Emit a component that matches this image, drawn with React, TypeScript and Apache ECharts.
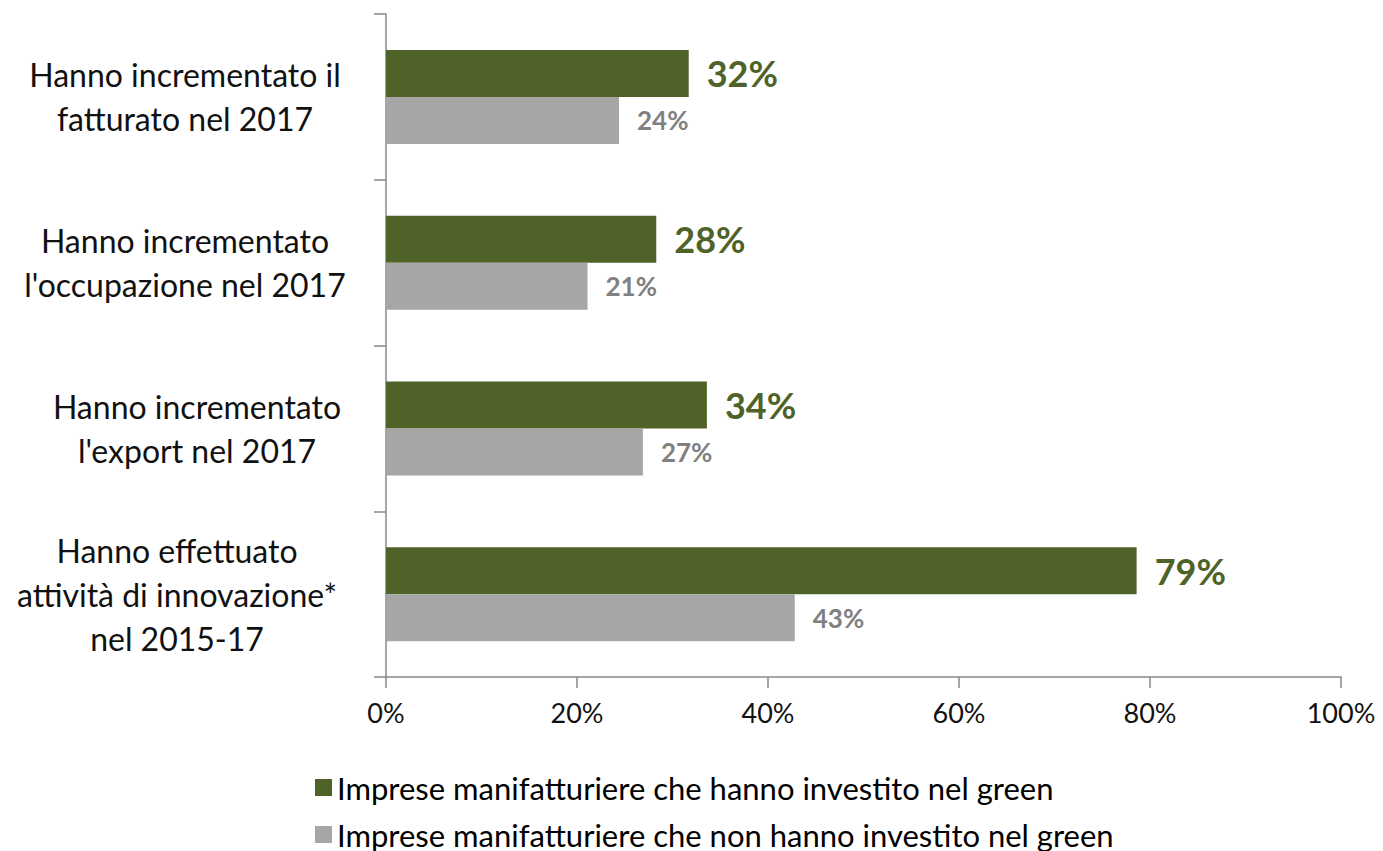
import React, { useEffect, useRef } from "react";
import * as echarts from "echarts";

const categories = [
  "Hanno incrementato il\nfatturato nel 2017",
  "Hanno incrementato\nl'occupazione nel 2017",
  "Hanno incrementato\nl'export nel 2017",
  "Hanno effettuato\nattività di innovazione*\nnel 2015-17",
];
const seriesNames = [
  "Imprese manifatturiere che hanno investito nel green",
  "Imprese manifatturiere che non hanno investito nel green",
];
const greenValues = [31.7, 28.3, 33.6, 78.6];
const grayValues = [24.4, 21.1, 26.9, 42.8];
const xTicks = [0, 20, 40, 60, 80, 100];

const FONT = "Lato";

export default function App() {
  const ref = useRef<HTMLDivElement>(null);
  useEffect(() => {
    document.body.style.margin = "0";
    const chart = echarts.init(ref.current!, null, { renderer: "svg" });
    // small horizontal nudges of the centered category labels (layout only)
    const labelPad = [
      [0, 0, 0, 0],
      [0, 0, 0, 0],
      [0, 0, 0, 24],
      [0, 16, 0, 0],
    ];
    const labelStyle = {
      fontSize: 32,
      color: "#111",
      align: "center",
      lineHeight: 44,
      fontFamily: FONT,
    };
    const legendText = { fontSize: 31, color: "#000", fontFamily: FONT };
    chart.setOption({
      animation: false,
      textStyle: { fontFamily: FONT },
      legend: [
        {
          orient: "vertical",
          left: 310,
          top: 767,
          itemWidth: 17,
          itemHeight: 17,
          itemGap: 10,
          icon: "rect",
          textStyle: legendText,
          data: [seriesNames[0]],
        },
        {
          orient: "vertical",
          left: 310,
          top: 814,
          itemWidth: 17,
          itemHeight: 17,
          itemGap: 10,
          icon: "rect",
          textStyle: legendText,
          data: [seriesNames[1]],
        },
      ],
      grid: {
        left: 386,
        right: 42,
        top: 14,
        bottom: 174,
        containLabel: false,
        outerBoundsMode: "none",
      },
      xAxis: {
        type: "value",
        min: xTicks[0],
        max: xTicks[xTicks.length - 1],
        interval: 20,
        splitLine: { show: false },
        axisLine: { show: true, lineStyle: { color: "#888", width: 1.5 } },
        axisTick: { show: true, length: 11, lineStyle: { color: "#888", width: 1.5 } },
        axisLabel: {
          formatter: (v: number) => v + "%",
          fontSize: 27,
          color: "#111",
          margin: 22,
          fontFamily: FONT,
        },
      },
      yAxis: {
        type: "category",
        inverse: true,
        data: categories.map((c, i) => ({
          value: c,
          textStyle: { ...labelStyle, padding: labelPad[i] },
        })),
        axisLine: { show: true, lineStyle: { color: "#888", width: 1.5 } },
        axisTick: { show: true, length: 12, lineStyle: { color: "#888", width: 1.5 } },
        axisLabel: { ...labelStyle, margin: 201 },
      },
      series: [
        {
          name: seriesNames[0],
          type: "bar",
          data: greenValues,
          barWidth: 47,
          barGap: "0%",
          itemStyle: { color: "#4f6228" },
          label: {
            show: true,
            position: "right",
            distance: 18,
            formatter: (p: any) => Math.round(p.value) + "%",
            fontSize: 36,
            fontWeight: "bold",
            color: "#4f6228",
            fontFamily: FONT,
          },
        },
        {
          name: seriesNames[1],
          type: "bar",
          data: grayValues,
          barWidth: 47,
          barGap: "0%",
          itemStyle: { color: "#a6a6a6" },
          label: {
            show: true,
            position: "right",
            distance: 18,
            formatter: (p: any) => Math.round(p.value) + "%",
            fontSize: 26,
            fontWeight: "bold",
            color: "#808080",
            fontFamily: FONT,
          },
        },
      ],
    });
    return () => chart.dispose();
  }, []);
  return (
    <div
      ref={ref}
      style={{ position: "absolute", left: 0, top: 0, width: 1383, height: 851, background: "#fff" }}
    />
  );
}
